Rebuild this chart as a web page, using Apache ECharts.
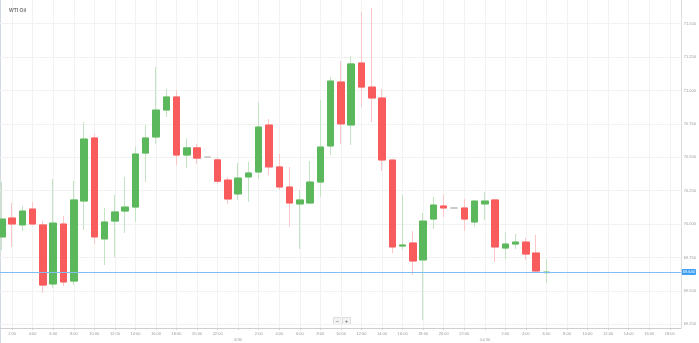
<!DOCTYPE html>
<html>
<head>
<meta charset="utf-8">
<title>WTI Oil</title>
<script src="https://cdn.jsdelivr.net/npm/echarts@6/dist/echarts.min.js"></script>
<style>
  html, body { margin: 0; padding: 0; background: #fff; }
  #chart { width: 699px; height: 343px; }
</style>
</head>
<body>
<div id="chart"></div>
<script>
// hourly candles, x = hours counted from 0:00 of the first day
const hours = [1, 2, 3, 4, 5, 6, 7, 8, 9, 10, 11, 12, 13, 14, 15, 16, 17, 18, 19, 20, 21, 22, 23,
  24, 25, 26, 27, 28, 29, 30, 31, 32, 33, 34, 35, 36, 37, 38, 39, 40, 41, 42, 43, 44, 45, 46, 47,
  48, 49, 50, 51, 52, 53, 54];
const dayLabels = ["6/30", "Jul 30"];
// time axis marks every 2 hours (0:00 of a day shows the date instead)
const timeTicks = [2, 4, 6, 8, 10, 12, 14, 16, 18, 20, 22, 24, 26, 28, 30, 32, 34, 36, 38, 40, 42,
  44, 46, 48, 50, 52, 54, 56, 58, 60, 62, 64, 66];
const priceTicks = [69.25, 69.5, 69.75, 70.0, 70.25, 70.5, 70.75, 71.0, 71.25, 71.5];

const openPrices = [69.903, 70.045, 69.993, 70.112, 69.993, 69.551, 70.000, 69.573, 70.172, 70.644,
  69.888, 70.022, 70.097, 70.127, 70.531, 70.651, 70.853, 70.951, 70.516, 70.570, 70.500, 70.480,
  70.329, 70.225, 70.352, 70.389, 70.741, 70.427, 70.277, 70.150, 70.157, 70.314, 70.584, 71.063,
  70.741, 71.205, 71.025, 70.943, 70.479, 69.835, 69.858, 69.731, 70.037, 70.135, 70.120, 70.120,
  70.015, 70.150, 70.180, 69.820, 69.850, 69.865, 69.783, 69.636];
const closePrices = [70.037, 70.000, 70.097, 70.000, 69.543, 70.007, 69.566, 70.180, 70.636, 69.903,
  70.015, 70.090, 70.127, 70.524, 70.644, 70.853, 70.951, 70.516, 70.570, 70.493, 70.500, 70.320,
  70.187, 70.344, 70.382, 70.726, 70.427, 70.277, 70.157, 70.180, 70.314, 70.576, 71.070, 70.749,
  71.198, 71.025, 70.943, 70.479, 69.828, 69.843, 69.723, 70.022, 70.142, 70.120, 70.120, 70.037,
  70.172, 70.172, 69.828, 69.850, 69.865, 69.775, 69.648, 69.640];
const lowPrices = [69.805, 69.828, 69.948, 69.990, 69.484, 69.520, 69.536, 69.543, 69.955, 69.850,
  69.693, 69.753, 69.933, 70.015, 70.314, 70.600, 70.800, 70.440, 70.418, 70.450, 70.500, 70.300,
  70.150, 70.180, 70.165, 70.337, 70.367, 70.254, 69.978, 69.813, 70.150, 70.202, 70.516, 70.599,
  70.591, 70.876, 70.763, 70.397, 69.783, 69.805, 69.618, 69.281, 69.963, 70.052, 70.120, 69.948,
  69.978, 70.030, 69.716, 69.738, 69.813, 69.730, 69.633, 69.558];
const highPrices = [70.314, 70.157, 70.135, 70.165, 70.022, 70.337, 70.060, 70.322, 70.763, 70.674,
  70.120, 70.217, 70.352, 70.580, 70.740, 71.175, 71.010, 71.000, 70.640, 70.600, 70.500, 70.500,
  70.350, 70.457, 70.464, 70.913, 70.786, 70.524, 70.427, 70.254, 70.472, 70.928, 71.100, 71.220,
  71.257, 71.587, 71.617, 71.010, 70.479, 70.217, 69.948, 70.082, 70.202, 70.217, 70.120, 70.187,
  70.172, 70.240, 70.180, 69.940, 69.925, 69.895, 69.918, 69.738];

const upColor = "#5cb85c";
const downColor = "#f95c5c";
const flatColor = "#c8c8c8";
const upWick = "#c2e4c2";
const downWick = "#fcc6c6";
const labelColor = "#9a9a9a";
const gridColor = "#f2f2f2";

const lastClose = closePrices[closePrices.length - 1];

// wicks: full high/low range, light colour, body left empty
const wickData = hours.map((h, i) => {
  const item = { value: [h, openPrices[i], closePrices[i], lowPrices[i], highPrices[i]] };
  if (openPrices[i] === closePrices[i]) {
    item.itemStyle = { borderColor: flatColor, borderColor0: flatColor };
  }
  return item;
});
// bodies: open/close only, solid colour on top of the wicks
const bodyData = hours.map((h, i) => {
  const o = openPrices[i];
  const c = closePrices[i];
  const item = { value: [h, o, c, Math.min(o, c), Math.max(o, c)] };
  if (o === c) {
    item.itemStyle = { color: flatColor, color0: flatColor, borderColor: flatColor, borderColor0: flatColor };
  }
  return item;
});

const chart = echarts.init(document.getElementById("chart"));

const options = {
  animation: false,
  title: {
    text: "WTI Oil",
    left: 4,
    top: 3,
    textStyle: { fontSize: 5, fontWeight: "bold", color: "#777", fontFamily: "Liberation Sans" },
  },
  grid: { left: 0, right: 15, top: 0, bottom: 15 },
  xAxis: {
    type: "value",
    min: 0.82,
    max: 67.07,
    axisLine: { show: true, lineStyle: { color: "#cfcfcf" } },
    axisTick: { show: true, length: 2, customValues: timeTicks, lineStyle: { color: "#cfcfcf" } },
    splitLine: { show: true, lineStyle: { color: gridColor } },
    axisLabel: {
      show: true,
      customValues: timeTicks,
      margin: 3,
      fontSize: 4,
      lineHeight: 6,
      color: labelColor,
      fontFamily: "Liberation Sans",
      formatter: function (value) {
        const h = Math.round(value) % 24;
        if (h === 0) {
          const d = Math.round(value) / 24 - 1;
          return d >= 0 && d < dayLabels.length ? "\n" + dayLabels[d] : "";
        }
        return h + ":00";
      },
    },
  },
  yAxis: {
    type: "value",
    position: "right",
    min: 69.2216,
    max: 71.6766,
    axisLine: { show: true, lineStyle: { color: "#dcdcdc" } },
    axisTick: { show: false, customValues: priceTicks },
    splitLine: { show: true, lineStyle: { color: gridColor } },
    axisLabel: {
      customValues: priceTicks,
      margin: 3,
      fontSize: 4,
      color: labelColor,
      fontFamily: "Liberation Sans",
      formatter: (v) => v.toFixed(3),
    },
  },
  series: [
    {
      name: "wicks",
      type: "candlestick",
      barWidth: 7,
      encode: { x: 0, y: [1, 2, 3, 4] },
      itemStyle: {
        color: "transparent",
        color0: "transparent",
        borderColor: upWick,
        borderColor0: downWick,
        borderWidth: 1,
      },
      data: wickData,
      z: 2,
    },
    {
      name: "WTI Oil",
      type: "candlestick",
      barWidth: 7,
      encode: { x: 0, y: [1, 2, 3, 4] },
      itemStyle: {
        color: upColor,
        color0: downColor,
        borderColor: upColor,
        borderColor0: downColor,
        borderWidth: 1,
      },
      data: bodyData,
      z: 3,
      markLine: {
        silent: true,
        symbol: "none",
        lineStyle: { color: "#80bdf2", width: 1, type: "solid" },
        label: {
          position: "end",
          distance: 1,
          formatter: () => lastClose.toFixed(3),
          fontSize: 4,
          fontFamily: "Liberation Sans",
          color: "#fff",
          backgroundColor: "#3f9ff2",
          padding: [1, 1],
          borderRadius: 1,
        },
        data: [{ yAxis: lastClose }],
      },
    },
  ],
  graphic: [
    {
      type: "line",
      shape: { x1: 0.5, y1: 0, x2: 0.5, y2: 343 },
      style: { stroke: "#d3dae2", lineWidth: 1 },
    },
    {
      type: "group",
      left: 333,
      top: 317,
      children: [
        { type: "rect", shape: { x: 0, y: 0, width: 8, height: 7 }, style: { fill: "#f3f3f3", stroke: "#dddddd" } },
        { type: "text", x: 4, y: 3.5, style: { text: "−", fontSize: 6, fill: "#666", align: "center", verticalAlign: "middle" } },
        { type: "rect", shape: { x: 9, y: 0, width: 8, height: 7 }, style: { fill: "#f3f3f3", stroke: "#dddddd" } },
        { type: "text", x: 13, y: 3.5, style: { text: "+", fontSize: 6, fill: "#666", align: "center", verticalAlign: "middle" } },
      ],
    },
  ],
};

chart.setOption(options);
window.addEventListener("resize", () => {
  chart.resize();
});
</script>
</body>
</html>
